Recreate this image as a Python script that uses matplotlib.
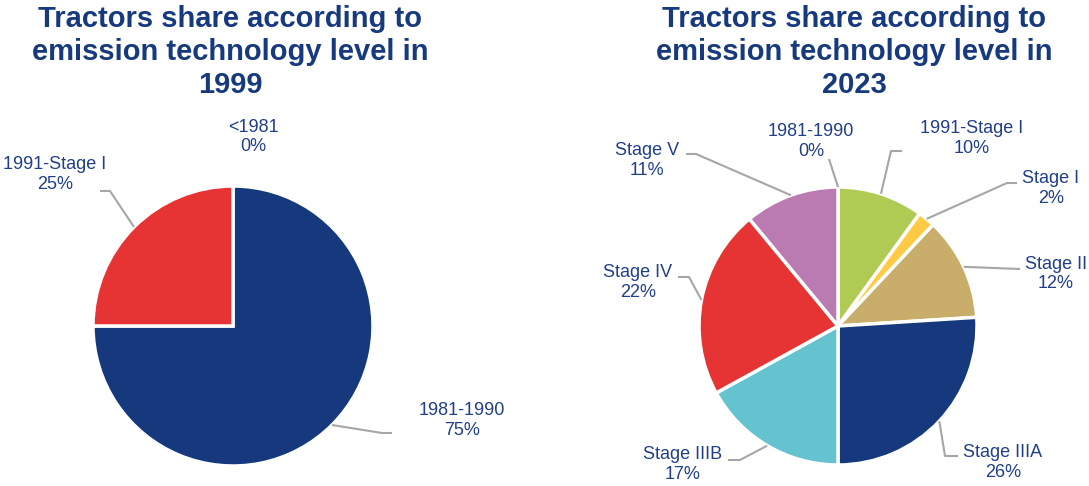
import numpy as np
import matplotlib
matplotlib.use("Agg")
import matplotlib.pyplot as plt

# ---------------- data ----------------
cats_1999 = ["<1981", "1981-1990", "1991-Stage I"]
vals_1999 = [0, 75, 25]
cols_1999 = ["#8B8B8B", "#15397C", "#E63434"]

cats_2023 = ["1981-1990", "1991-Stage I", "Stage I", "Stage II",
             "Stage IIIA", "Stage IIIB", "Stage IV", "Stage V"]
vals_2023 = [0, 10, 2, 12, 26, 17, 22, 11]
cols_2023 = ["#8B8B8B", "#AFCB53", "#FFCB45", "#C9AD6A",
             "#15397C", "#64C3CF", "#E63434", "#B97BB1"]

title_1999 = "Tractors share according to\nemission technology level in\n1999"
title_2023 = "Tractors share according to\nemission technology level in\n2023"

# ---------------- layout (pixel coords, y downward) ----------------
W, H = 1089, 486
TITLE_C = "#173A7E"
LABEL_C = "#213F88"
LINE_C = "#A6A6A6"

pie_layout = {
    "1999": dict(center=(233, 326), radius=140, title_xy=(230, 52),
                 labels={"<1981": ((253, 137), []),
                         "1981-1990": ((462, 420.5), [(392, 433), (382, 433)]),
                         "1991-Stage I": ((55, 174.5), [(100, 191), (110, 191)])}),
    "2023": dict(center=(838, 326), radius=139, title_xy=(854, 52),
                 labels={"1981-1990": ((811, 141.5), [(829, 159)]),
                         "1991-Stage I": ((972, 138.5), [(902, 151), (891, 151)]),
                         "Stage I": ((1051, 188.5), [(1017, 183), (1007, 183)]),
                         "Stage II": ((1056, 274), [(1020, 269)]),
                         "Stage IIIA": ((1003, 462.5), [(958, 456), (945, 456)]),
                         "Stage IIIB": ((683, 464.5), [(728, 460), (740, 460)]),
                         "Stage IV": ((638, 282.5), [(678, 277), (689, 277)]),
                         "Stage V": ((647, 160.5), [(686, 154), (696, 154)])}),
}

plt.rcParams["font.family"] = ["Liberation Sans", "DejaVu Sans"]

fig = plt.figure(figsize=(W / 100, H / 100), dpi=100)
ax = fig.add_axes([0, 0, 1, 1])


def P(x, y):
    return x, H - y


def draw(key, cats, vals, cols, title):
    lay = pie_layout[key]
    cx, cy = P(*lay["center"])
    r = lay["radius"]
    wedges, _ = ax.pie(vals, colors=cols, startangle=90, counterclock=False,
                       center=(cx, cy), radius=r,
                       wedgeprops=dict(edgecolor="white", linewidth=2.5))
    total = float(sum(vals))
    for cat, v, w in zip(cats, vals, wedges):
        (lx, ly), pts = lay["labels"][cat]
        mid = np.deg2rad((w.theta1 + w.theta2) / 2.0)
        ax_pt = (cx + r * np.cos(mid), cy + r * np.sin(mid))
        if pts:
            xs = [P(*p)[0] for p in pts] + [ax_pt[0]]
            ys = [P(*p)[1] for p in pts] + [ax_pt[1]]
            ax.plot(xs, ys, color=LINE_C, lw=1.5, solid_capstyle="butt", zorder=1)
        ax.text(*P(lx, ly), f"{cat}\n{v / total * 100:.0f}%", ha="center", va="center",
                fontsize=13, color=LABEL_C, linespacing=1.2)
    tx, ty = P(*lay["title_xy"])
    ax.text(tx, ty, title, ha="center", va="center", fontsize=21, fontweight="bold",
            color=TITLE_C, linespacing=1.22)


draw("1999", cats_1999, vals_1999, cols_1999, title_1999)
draw("2023", cats_2023, vals_2023, cols_2023, title_2023)

ax.set_xlim(0, W)
ax.set_ylim(0, H)
ax.set_aspect("auto")
ax.axis("off")

fig.savefig("out.png", dpi=100, facecolor="white")
